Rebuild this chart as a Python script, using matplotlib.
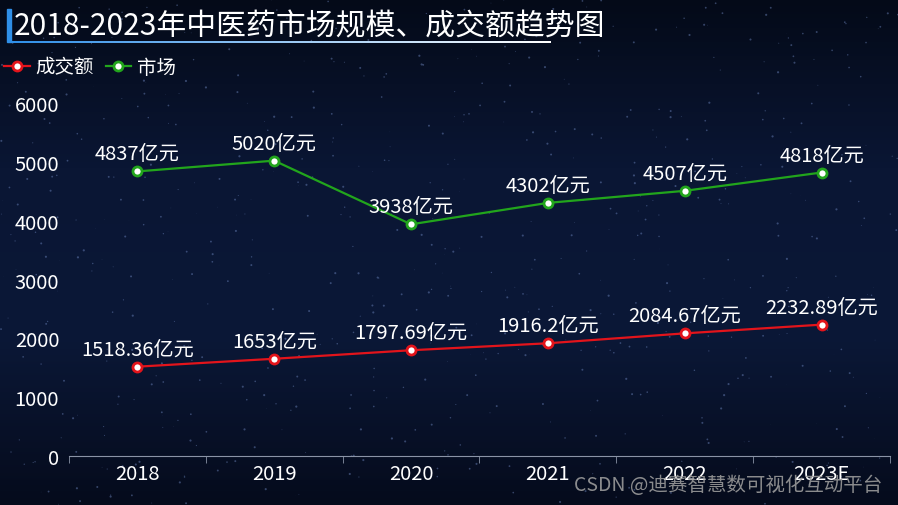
import numpy as np
import matplotlib
matplotlib.use('Agg')
import matplotlib.pyplot as plt
from matplotlib.colors import LinearSegmentedColormap

plt.rcParams['font.family'] = ['Noto Sans CJK SC', 'DejaVu Sans']

years = ['2018', '2019', '2020', '2021', '2022', '2023E']
turnover = [1518.36, 1653, 1797.69, 1916.2, 2084.67, 2232.89]
market = [4837, 5020, 3938, 4302, 4507, 4818]
turnover_labels = ['1518.36', '1653', '1797.69', '1916.2', '2084.67', '2232.89']
market_labels = ['4837', '5020', '3938', '4302', '4507', '4818']

fig = plt.figure(figsize=(8.98, 5.06), dpi=100)

# background: dark navy gradient with faint stars
bg = fig.add_axes([0, 0, 1, 1], zorder=-10)
grad = np.linspace(0, 1, 256).reshape(-1, 1)
cmap = LinearSegmentedColormap.from_list('bg', ['#040a18', '#0a1634', '#0b1837', '#050b1c'])
bg.imshow(grad, aspect='auto', cmap=cmap, extent=[0, 1, 0, 1], origin='upper')
rng = np.random.default_rng(3)
sx, sy = rng.random(700), rng.random(700)
bg.scatter(sx, sy, s=rng.random(700) * 2.5, c='#7f9ad8', alpha=0.4, linewidths=0)
bg.set_xlim(0, 1)
bg.set_ylim(0, 1)
bg.axis('off')

ax = fig.add_axes([0.0768, 0.0968, 0.9142, 0.6977])
ax.set_facecolor('none')
x = np.arange(len(years))

ax.plot(x, turnover, color='#e3141b', lw=1.6, marker='o', ms=6.5,
        mfc='white', mec='#e3141b', mew=2, label='成交额', zorder=3)
ax.plot(x, market, color='#22a51c', lw=1.6, marker='o', ms=6.5,
        mfc='white', mec='#22a51c', mew=2, label='市场', zorder=3)

for xi, v, t in zip(x, turnover, turnover_labels):
    ax.annotate(t + '亿元', (xi, v), xytext=(0, 5), textcoords='offset points',
                ha='center', va='bottom', color='white', fontsize=14.5)
for xi, v, t in zip(x, market, market_labels):
    ax.annotate(t + '亿元', (xi, v), xytext=(0, 5), textcoords='offset points',
                ha='center', va='bottom', color='white', fontsize=14.5)

ax.set_xlim(-0.5, len(years) - 0.5)
ax.set_ylim(0, 6000)
ax.set_yticks(range(0, 6001, 1000))
ax.set_xticks(x)
ax.set_xticklabels(years)
ax.set_xticks(np.arange(-0.5, len(years), 1), minor=True)
ax.tick_params(axis='x', which='major', length=0, colors='white', labelsize=14.5, pad=5)
ax.tick_params(axis='x', which='minor', length=5, color='#8a93a6')
ax.tick_params(axis='y', length=0, colors='white', labelsize=14.5, pad=7)
for s in ['top', 'right', 'left']:
    ax.spines[s].set_visible(False)
ax.spines['bottom'].set_color('#8a93a6')

# title with left bar and underline
fig.text(14 / 898, 1 - 27 / 506, '2018-2023年中医药市场规模、成交额趋势图',
         color='white', fontsize=21.5, va='center', ha='left')
fig.add_artist(plt.Rectangle((7 / 898, 1 - 43 / 506), 4 / 898, 33 / 506,
                             transform=fig.transFigure, color='#2f8fe8'))
ul = np.linspace(0, 1, 200).reshape(1, -1)
ulax = fig.add_axes([11 / 898, 1 - 44 / 506, 540 / 898, 2 / 506])
ulax.imshow(ul, aspect='auto', cmap=LinearSegmentedColormap.from_list('ul', ['#2f8fe8', '#ffffff']))
ulax.axis('off')

leg = fig.legend(loc='upper left', bbox_to_anchor=(-0.008, 1 - 46 / 506), ncol=2, frameon=False,
                 fontsize=14, labelcolor='white', handlelength=1.3, handletextpad=0.3,
                 columnspacing=0.6, borderaxespad=0.2)

fig.text(882 / 898, 1 - 486 / 506, 'CSDN @迪赛智慧数可视化互动平台', color='#9a9a9a',
         fontsize=14, ha='right', va='center', alpha=0.9)

plt.savefig('out.png', dpi=100)
